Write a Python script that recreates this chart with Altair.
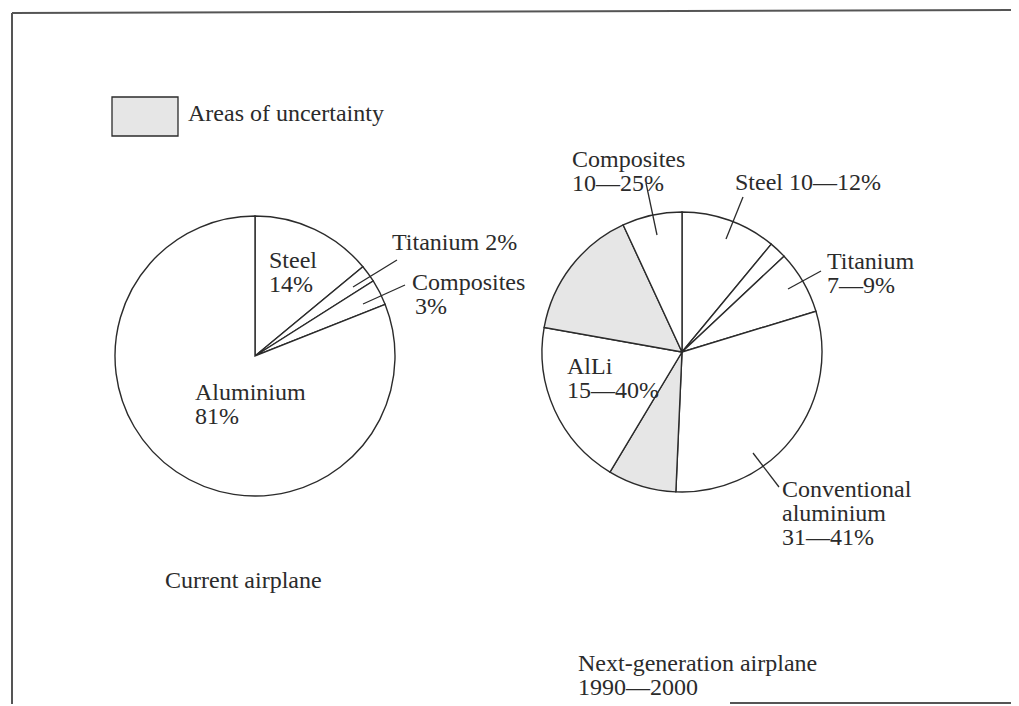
import altair as alt
import pandas as pd

# ---------------- data ----------------
current_labels = ["Steel", "Titanium", "Composites", "Aluminium"]
current_values = [14, 2, 3, 81]
current_shade = ["plain", "plain", "plain", "plain"]

next_labels = ["Steel", "Steel (range)", "Titanium", "Conventional aluminium",
               "Uncertain (Al)", "AlLi", "Uncertain (AlLi/Comp.)", "Composites"]
next_values = [11, 2, 7.3, 30.4, 7.9, 19.2, 15.3, 6.9]
next_shade = ["plain", "plain", "plain", "plain", "uncertain", "plain", "uncertain", "plain"]

label_texts = ["Areas of uncertainty",
               "Steel", "14%", "Titanium 2%", "Composites", "3%", "Aluminium", "81%",
               "Current airplane",
               "Composites", "10—25%", "Steel 10—12%", "Titanium", "7—9%",
               "AlLi", "15—40%", "Conventional", "aluminium", "31—41%",
               "Next-generation airplane", "1990—2000"]

# ---------------- layout (image pixel coordinates) ----------------
OX, OY = 8, 8
W, H = 1003, 696
R = 140
current_center = (255, 356)
next_center = (682, 352)

label_x = [188,
           269, 269, 392, 412, 415, 195, 195,
           165,
           572, 572, 735, 827, 827,
           567, 567, 782, 782, 782,
           578, 578]
label_y = [121,
           268, 292, 250, 290, 314, 400, 424,
           588,
           167, 191, 190, 269, 293,
           374, 398, 497, 521, 545,
           671, 695]

leader_x1 = [397, 405, 646, 743, 821, 753]
leader_y1 = [260, 285, 183, 197, 271, 453]
leader_x2 = [353, 363, 657, 726, 788, 779]
leader_y2 = [287, 304, 235, 239, 289, 487]

frame_x1 = [12, 12, 730]
frame_y1 = [13, 13, 703]
frame_x2 = [1019, 12, 1019]
frame_y2 = [10, 706, 703]

INK = "#2b2b2b"
SHADE = "#e6e6e6"
FONT = "Liberation Serif"
FS = 24

color_scale = alt.Scale(domain=["plain", "uncertain"], range=["#ffffff", SHADE])


def pie(labels, values, shades, center):
    df = pd.DataFrame({"label": labels, "value": values, "shade": shades,
                       "idx": list(range(len(labels)))})
    return alt.Chart(df).mark_arc(radius=R, stroke=INK, strokeWidth=1.4).encode(
        theta=alt.Theta("value:Q", stack=True),
        order=alt.Order("idx:Q"),
        color=alt.Color("shade:N", scale=color_scale, legend=None),
        x=alt.value(center[0] - OX),
        y=alt.value(center[1] - OY),
    )


pie_current = pie(current_labels, current_values, current_shade, current_center)
pie_next = pie(next_labels, next_values, next_shade, next_center)

txt_df = pd.DataFrame({"text": label_texts,
                       "x": [v - OX for v in label_x],
                       "y": [v - OY for v in label_y]})
texts = alt.Chart(txt_df).mark_text(
    align="left", baseline="alphabetic", font=FONT, fontSize=FS, color=INK
).encode(
    x=alt.X("x:Q", scale=None, axis=None),
    y=alt.Y("y:Q", scale=None, axis=None),
    text="text:N",
)

lead_df = pd.DataFrame({"x": [v - OX for v in leader_x1], "y": [v - OY for v in leader_y1],
                        "x2": [v - OX for v in leader_x2], "y2": [v - OY for v in leader_y2]})
leaders = alt.Chart(lead_df).mark_rule(color=INK, strokeWidth=1.3).encode(
    x=alt.X("x:Q", scale=None, axis=None), y=alt.Y("y:Q", scale=None, axis=None),
    x2="x2:Q", y2="y2:Q",
)

frame_df = pd.DataFrame({"x": [v - OX for v in frame_x1], "y": [v - OY for v in frame_y1],
                         "x2": [v - OX for v in frame_x2], "y2": [v - OY for v in frame_y2]})
frame = alt.Chart(frame_df).mark_rule(color="#555555", strokeWidth=2).encode(
    x=alt.X("x:Q", scale=None, axis=None), y=alt.Y("y:Q", scale=None, axis=None),
    x2="x2:Q", y2="y2:Q",
)

legend_box = alt.Chart(pd.DataFrame({"k": ["uncertain"]})).mark_rect(
    fill=SHADE, stroke=INK, strokeWidth=1.3
).encode(
    x=alt.value(112 - OX), x2=alt.value(178 - OX),
    y=alt.value(97 - OY), y2=alt.value(136 - OY),
)

chart = alt.layer(frame, legend_box, pie_current, pie_next, leaders, texts).resolve_scale(
    theta="independent"
).properties(
    width=W, height=H, padding=0, autosize=alt.AutoSizeParams(type="none"),
    background="white",
).configure_view(stroke=None)

chart.save("out.html", embed_options={"renderer": "svg", "actions": False})
